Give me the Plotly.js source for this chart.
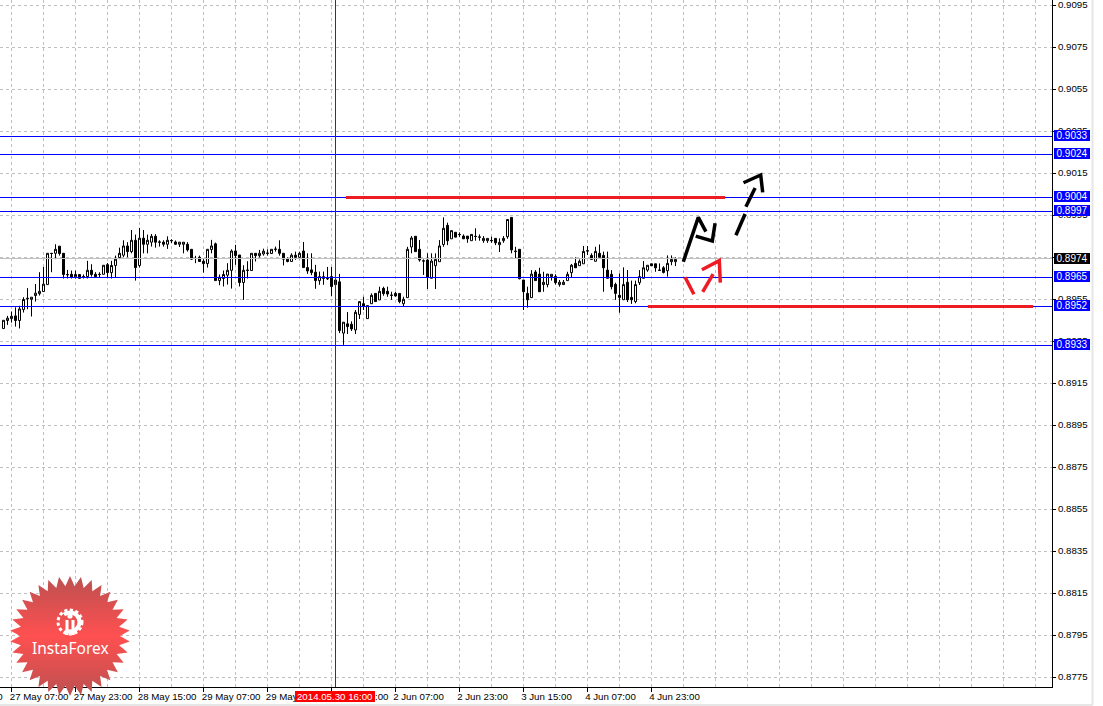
<!DOCTYPE html>
<html>
<head>
<meta charset="utf-8">
<script src="https://cdn.plot.ly/plotly-3.0.1.min.js"></script>
<style>html,body{margin:0;padding:0;background:#fff;overflow:hidden}#chart{width:1103px;height:706px}</style>
</head>
<body>
<div id="chart"></div>
<script>
// H1 candles, prices in units of 0.0001
const open_=[8941.2,8945.0,8945.9,8947.2,8945.0,8950.2,8955.6,8955.1,8956.9,8957.8,8958.8,8962.1,8977.0,8977.0,8980.4,8977.0,8966.9,8967.0,8965.8,8966.9,8965.9,8965.9,8968.9,8967.0,8967.0,8967.0,8971.6,8967.8,8971.2,8975.0,8976.1,8980.5,8977.8,8983.2,8971.2,8984.2,8981.3,8982.3,8985.1,8982.4,8982.3,8981.3,8983.1,8982.4,8981.3,8981.3,8981.3,8978.9,8974.6,8975.1,8973.2,8972.1,8978.8,8981.5,8964.0,8965.0,8966.6,8968.9,8978.1,8976.2,8963.1,8969.0,8968.8,8977.0,8975.9,8976.7,8977.1,8976.9,8979.0,8978.9,8977.0,8974.2,8973.1,8976.1,8975.1,8978.1,8970.2,8969.1,8968.0,8964.0,8965.0,8965.0,8965.9,8964.3,8963.4,8939.0,8943.4,8943.2,8940.5,8947.9,8953.0,8945.9,8953.0,8957.9,8954.8,8960.3,8958.9,8957.1,8957.9,8957.9,8953.0,8955.9,8980.0,8985.1,8978.9,8973.4,8973.8,8965.1,8971.1,8973.0,8981.2,8990.3,8983.9,8987.0,8986.0,8985.2,8985.2,8983.0,8985.1,8984.8,8983.0,8983.0,8983.1,8984.1,8981.1,8983.0,8984.9,8994.1,8978.0,8978.9,8964.3,8957.9,8955.9,8968.1,8967.1,8962.1,8962.1,8965.9,8966.0,8962.1,8962.1,8964.0,8967.8,8972.2,8971.1,8972.0,8978.2,8976.0,8973.2,8977.0,8976.0,8969.0,8967.0,8962.2,8957.0,8954.9,8963.2,8956.0,8954.0,8963.0,8965.1,8969.0,8972.0,8972.0,8969.0,8970.1,8968.7,8973.0,8973.0];
const high_=[8945.1,8947.2,8949.3,8951.3,8952.0,8956.1,8960.4,8956.1,8962.4,8968.0,8970.5,8977.0,8977.0,8981.3,8980.4,8977.0,8969.1,8968.8,8968.8,8966.9,8966.9,8973.4,8971.8,8968.0,8968.0,8971.3,8972.4,8973.4,8975.9,8979.7,8983.2,8982.3,8988.1,8985.9,8989.1,8988.1,8985.9,8986.2,8986.1,8983.2,8983.2,8985.1,8983.7,8983.1,8982.3,8982.3,8982.3,8978.9,8975.8,8975.9,8974.2,8978.9,8983.4,8982.1,8966.9,8968.8,8972.3,8978.9,8981.0,8976.2,8971.3,8973.2,8977.0,8977.0,8978.6,8979.2,8978.9,8978.9,8980.2,8983.2,8977.0,8975.1,8977.0,8977.8,8977.8,8982.4,8977.0,8977.0,8971.5,8968.3,8968.3,8970.5,8970.5,8965.9,8967.2,8944.2,8949.0,8944.6,8950.0,8954.0,8956.3,8952.1,8957.9,8957.9,8961.1,8961.1,8961.1,8958.7,8958.7,8957.9,8956.3,8980.1,8985.2,8985.1,8983.3,8974.1,8977.0,8977.0,8977.0,8983.3,8994.1,8991.6,8987.8,8987.0,8987.0,8986.0,8985.2,8986.0,8988.9,8986.0,8985.2,8984.1,8984.9,8984.1,8984.1,8985.2,8993.1,8994.1,8980.1,8978.9,8964.3,8961.1,8969.0,8969.0,8970.1,8968.2,8967.1,8967.0,8967.0,8964.3,8964.3,8968.2,8971.9,8975.1,8974.1,8980.5,8980.5,8977.0,8980.1,8981.2,8977.8,8977.8,8969.0,8963.0,8967.4,8970.3,8969.0,8964.0,8964.0,8969.0,8973.3,8971.3,8972.0,8972.0,8972.2,8970.9,8976.0,8976.0,8975.1];
const low_=[8940.9,8942.9,8944.0,8942.1,8941.2,8948.8,8950.4,8946.9,8954.0,8956.9,8958.8,8962.1,8968.0,8974.2,8975.9,8965.0,8965.0,8965.0,8965.0,8965.0,8965.0,8965.0,8965.9,8965.6,8965.6,8966.9,8965.6,8965.0,8965.6,8974.2,8975.1,8975.1,8977.0,8964.0,8970.2,8977.0,8977.0,8980.2,8979.7,8980.2,8980.2,8979.1,8981.8,8981.0,8980.0,8977.0,8977.8,8973.9,8972.3,8972.9,8967.8,8970.2,8977.0,8964.0,8961.8,8961.2,8962.1,8960.2,8971.5,8961.2,8954.8,8965.0,8968.8,8973.1,8975.0,8975.9,8975.9,8976.9,8977.8,8975.9,8971.2,8972.7,8973.1,8973.9,8974.2,8970.2,8967.2,8966.6,8960.1,8962.0,8962.0,8964.3,8956.7,8960.4,8939.0,8933.4,8938.6,8940.0,8938.6,8945.7,8950.0,8945.9,8953.0,8954.0,8954.8,8956.8,8956.3,8954.8,8956.3,8953.2,8951.9,8955.9,8977.0,8977.8,8973.0,8966.7,8960.0,8965.1,8960.0,8973.0,8980.1,8980.9,8983.9,8984.7,8984.7,8983.8,8982.0,8983.0,8983.0,8983.0,8982.0,8982.0,8982.0,8980.9,8977.6,8982.0,8983.9,8977.0,8974.7,8964.6,8950.0,8951.1,8955.9,8964.0,8958.7,8958.7,8960.8,8964.0,8962.1,8961.1,8962.1,8964.0,8965.5,8970.1,8971.1,8972.0,8976.2,8974.1,8973.2,8975.1,8958.7,8965.1,8959.8,8954.8,8948.7,8954.9,8953.8,8952.9,8953.2,8961.9,8965.1,8968.2,8971.1,8968.2,8968.6,8967.4,8965.9,8971.3,8970.9];
const close_=[8945.1,8946.1,8947.0,8945.0,8950.5,8955.0,8955.4,8956.1,8958.0,8958.9,8962.3,8977.0,8976.9,8978.9,8976.9,8966.9,8966.8,8965.8,8966.9,8965.1,8965.8,8968.9,8966.9,8965.9,8966.9,8971.3,8967.8,8971.2,8974.2,8977.0,8980.5,8977.8,8983.2,8970.2,8984.2,8981.3,8983.2,8985.1,8982.3,8982.3,8981.3,8983.2,8983.0,8981.3,8982.3,8982.3,8978.6,8974.2,8974.5,8973.1,8972.1,8978.9,8980.5,8964.0,8965.6,8966.9,8968.9,8978.1,8975.9,8963.1,8968.9,8968.9,8977.0,8975.9,8977.0,8978.0,8977.0,8978.9,8978.9,8977.0,8974.2,8973.1,8976.1,8975.1,8977.0,8970.2,8968.6,8967.8,8964.0,8965.9,8965.9,8964.9,8961.2,8962.1,8940.2,8944.2,8942.1,8941.0,8948.9,8954.0,8951.7,8952.1,8957.0,8954.0,8958.9,8957.8,8957.6,8957.0,8956.7,8954.0,8955.1,8978.9,8984.3,8977.8,8973.8,8973.3,8965.5,8973.3,8974.1,8980.5,8988.9,8983.0,8987.8,8984.7,8985.9,8983.9,8983.9,8986.0,8985.0,8984.7,8984.1,8984.1,8983.0,8982.0,8982.2,8984.1,8993.1,8978.6,8977.9,8964.9,8958.7,8954.9,8967.1,8964.0,8958.7,8963.2,8967.1,8967.0,8963.0,8963.2,8963.2,8967.0,8971.3,8970.1,8973.2,8977.9,8978.1,8974.1,8977.9,8975.1,8970.1,8965.1,8961.1,8957.9,8956.0,8962.1,8954.9,8954.9,8962.1,8965.9,8970.1,8971.3,8971.1,8970.1,8968.9,8967.9,8972.2,8974.1,8974.1];

const majorTicks=[2,18,34,50,66,82,98,114,130,146,162];
const timeLabels=['27 May 07:00','27 May 23:00','28 May 15:00','29 May 07:00','29 May 23:00','30 May 15:00','2 Jun 07:00','2 Jun 23:00','3 Jun 15:00','4 Jun 07:00','4 Jun 23:00'];
const labelShift=[6.9,6.9,6.9,6.9,6.9,6.9,5.75,5.75,5.75,5.75,5.75];
const minorGrid=[10,26,42,58,74,90,106,122,138,154,170,178,186,194,202,210,218,226,234,242,250,258];

const levelValues=[0.903262,0.902405,0.900357,0.89969,0.896548,0.895167,0.89331];
const levelLabels=['0.9033','0.9024','0.9004','0.8997','0.8965','0.8952','0.8933'];
const bidValue=0.897452, bidLabel='0.8974';
const crosshairHour=83, crosshairLabel='2014.05.30 16:00';

const redBarX=[85.6,180.4,null,161.1,257.4];
const redBarY=[0.900357,0.900357,null,0.895167,0.895167];
const blackArrowX=[169.95,173.7,175.6,null,173.05,177.2,177.9,null,183.1,185.4,null,185.6,187.9,null,185.0,189.3,189.8];
const blackArrowY=[8973.0,8994.1,8987.3,null,8985.2,8982.9,8991.3,null,8985.6,8995.7,null,8999.2,9008.1,null,9010.6,9014.3,9006.0];
const redArrowX=[170.4,172.6,null,174.8,177.4,null,174.6,178.95,179.2];
const redArrowY=[8965.6,8957.5,null,8958.6,8967.1,null,8969.2,8973.5,8963.0];

const xRange=[-0.875,262.125], yRange=[0.9097619,0.8770476].reverse();
const scale=a=>a.map(v=>v===null?null:v/10000);
const hours=open_.map((_,i)=>i);
const FONT='"Liberation Sans", Arial, sans-serif';
const GRID='#c0c0c0';

const traces=[{
  type:'candlestick',x:hours,open:scale(open_),high:scale(high_),low:scale(low_),close:scale(close_),
  xaxis:'x',yaxis:'y',whiskerwidth:0,hoverinfo:'skip',
  increasing:{line:{color:'#000',width:1},fillcolor:'#fff'},
  decreasing:{line:{color:'#000',width:1},fillcolor:'#000'}
}];
const line=(x,y,color,width)=>({type:'scatter',mode:'lines',x,y,xaxis:'x2',yaxis:'y',hoverinfo:'skip',connectgaps:false,line:{color,width}});
traces.push(line(xRange,[bidValue,bidValue],'#c0c0c0',1));
levelValues.forEach(v=>traces.push(line(xRange,[v,v],'#0000ff',1)));
traces.push(line([crosshairHour,crosshairHour],yRange,'#c00000',1));
traces.push(line(redBarX,redBarY,'#ed1c24',3));
traces.push(line(blackArrowX,scale(blackArrowY),'#000',3.5));
traces.push(line(redArrowX,scale(redArrowY),'#ed1c24',3.5));

const PW=1052,PH=687;
const box=(text,y,bg)=>({xref:'paper',yref:'y',x:1054/PW,y,xanchor:'left',yanchor:'middle',yshift:1,width:36,height:11,text,
  showarrow:false,bgcolor:bg,borderpad:0,borderwidth:0,align:'center',font:{family:FONT,size:10,color:'#fff'}});
const annotations=levelValues.map((v,i)=>box(levelLabels[i],v,'#0000ff'));
annotations.push(Object.assign(box(bidLabel,bidValue,'#000'),{yshift:0}));
annotations.push({xref:'paper',yref:'paper',x:295/PW,y:(PH-696.5)/PH,xanchor:'left',yanchor:'middle',width:80,height:11,text:crosshairLabel,
  showarrow:false,bgcolor:'#ff0000',borderpad:0,borderwidth:0,font:{family:FONT,size:9.7,color:'#fff'}});
annotations.push({xref:'paper',yref:'paper',x:4.5/PW,y:(PH-696.5)/PH,xanchor:'right',yanchor:'middle',text:'26 May 15:00',showarrow:false,font:{family:FONT,size:9.7,color:'#000'}});
annotations.push({xref:'paper',yref:'paper',x:70/PW,y:(PH-648)/PH,xanchor:'center',yanchor:'middle',text:'InstaForex',showarrow:false,font:{family:'"Noto Sans",sans-serif',size:15.5,color:'#fff'}});

// seal logo
let pts=[];const spikes=34;
for(let k=0;k<spikes*2;k++){const r=k%2?50:60,a=Math.PI*k/spikes;pts.push((70+r*Math.sin(a)).toFixed(1)+','+(60-r*Math.cos(a)).toFixed(1));}
const svg=`<svg xmlns="http://www.w3.org/2000/svg" width="140" height="120" viewBox="0 0 140 120"><defs><linearGradient id="g" x1="0" y1="0" x2="0" y2="1"><stop offset="0" stop-color="#bc5050"/><stop offset="0.5" stop-color="#ff5050"/><stop offset="1" stop-color="#bc5050"/></linearGradient></defs><polygon points="${pts.join(' ')}" fill="url(#g)"/><circle cx="70" cy="46" r="9.5" fill="none" stroke="#fff" stroke-width="4" stroke-dasharray="42 18" stroke-dashoffset="-38"/><circle cx="70" cy="46" r="12" fill="none" stroke="#fff" stroke-width="3" stroke-dasharray="3.2 2.4"/><circle cx="70" cy="40" r="2.6" fill="#fff"/><rect x="65.5" y="44" width="3" height="15" fill="#fff"/><rect x="71.5" y="44" width="3" height="15" fill="#fff"/></svg>`;

const layout={
  width:1103,height:706,margin:{l:0,r:51,t:0,b:19,pad:0},
  paper_bgcolor:'#fff',plot_bgcolor:'#fff',showlegend:false,hovermode:false,dragmode:false,boxgap:0.5,boxgroupgap:0,
  xaxis:{type:'linear',range:xRange,rangeslider:{visible:false},tickmode:'array',tickvals:majorTicks,ticktext:majorTicks.map(()=>''),
    ticks:'outside',ticklen:4,tickcolor:'#000',tickwidth:1,showline:true,linecolor:'#000',linewidth:1,zeroline:false,
    showgrid:true,gridcolor:GRID,griddash:'3px,3px',gridwidth:1,
    minor:{tickmode:'array',tickvals:minorGrid,showgrid:true,gridcolor:GRID,griddash:'3px,3px',gridwidth:1,ticks:''}},
  xaxis2:{type:'linear',overlaying:'x',anchor:'y',side:'bottom',range:xRange,tickmode:'array',
    tickvals:majorTicks.map((t,i)=>t+labelShift[i]),ticktext:timeLabels,ticks:'',showgrid:false,zeroline:false,showline:false,ticklabelstandoff:2,
    tickfont:{family:FONT,size:9.7,color:'#000'},tickangle:0},
  yaxis:{type:'linear',side:'right',range:yRange,tick0:0.8775,dtick:0.002,tickformat:'.4f',ticks:'outside',ticklen:3,tickcolor:'#000',
    showline:true,linecolor:'#000',linewidth:1,zeroline:false,showgrid:true,gridcolor:GRID,griddash:'3px,3px',gridwidth:1,
    ticklabeloverflow:'allow',ticklabelshift:-1,
    tickfont:{family:FONT,size:9.7,color:'#000'}},
  annotations,
  shapes:[
    {type:'line',xref:'paper',yref:'paper',x0:1092.5/PW,x1:1092.5/PW,y0:(PH-705)/PH,y1:1,line:{color:'#e6e6e6',width:2}},
    {type:'line',xref:'paper',yref:'paper',x0:0,x1:1092.5/PW,y0:(PH-705)/PH,y1:(PH-705)/PH,line:{color:'#e6e6e6',width:2}}
  ],
  images:[{source:'data:image/svg+xml;charset=utf-8,'+encodeURIComponent(svg),xref:'paper',yref:'paper',x:0,y:(PH-576)/PH,sizex:140/PW,sizey:120/PH,xanchor:'left',yanchor:'top',layer:'above',sizing:'stretch'}]
};
Plotly.newPlot('chart',traces,layout,{displayModeBar:false,staticPlot:true});
</script>
</body>
</html>
